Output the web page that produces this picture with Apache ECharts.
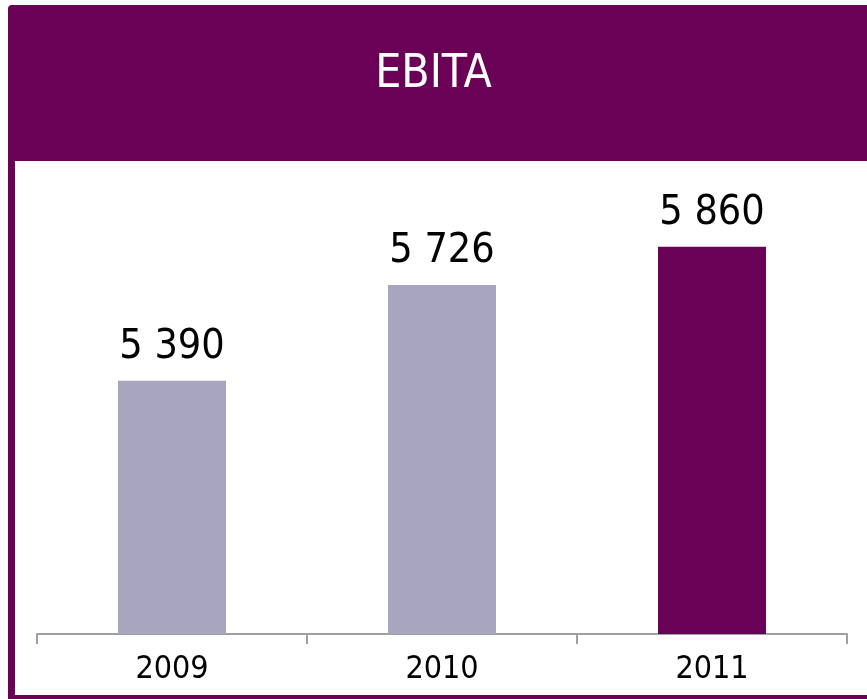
<!DOCTYPE html>
<html>
<head>
<meta charset="utf-8">
<script src="https://cdn.jsdelivr.net/npm/echarts@6/dist/echarts.min.js"></script>
<style>
  html, body { margin: 0; padding: 0; background: #fff; }
  #chart { width: 867px; height: 699px; }
</style>
</head>
<body>
<div id="chart"></div>
<script>
var years = ['2009', '2010', '2011'];
var ebita = [5390, 5726, 5860];
var barColors = ['#a8a5be', '#a8a5be', '#6b0057'];
var labelText = ['5 390', '5 726', '5 860'];

var PURPLE = '#6b0057';
var FONT = '"DejaVu Sans Condensed", "Liberation Sans", Arial, sans-serif';

var chart = echarts.init(document.getElementById('chart'));

chart.setOption({
  animation: false,
  graphic: [
    // header band
    { type: 'rect', shape: { x: 8, y: 5, width: 870, height: 156, r: [4, 0, 0, 0] }, style: { fill: PURPLE } },
    // left border
    { type: 'rect', shape: { x: 8, y: 160, width: 7, height: 540 }, style: { fill: PURPLE } },
    // bottom border
    { type: 'rect', shape: { x: 8, y: 695, width: 870, height: 4 }, style: { fill: PURPLE } },
    {
      type: 'text', left: 'center', top: 52,
      style: { text: 'EBITA', fill: '#fff', font: '46px ' + FONT }
    }
  ],
  grid: { left: 37, right: 20, top: 207, bottom: 65 },
  xAxis: {
    type: 'category',
    data: years,
    axisLine: { lineStyle: { color: '#a0a0a0', width: 2 } },
    axisTick: { show: true, alignWithLabel: false, length: 10, lineStyle: { color: '#a0a0a0', width: 2 } },
    axisLabel: { color: '#000', fontSize: 32, fontFamily: FONT, margin: 20 }
  },
  yAxis: {
    type: 'value', min: 4500, max: 6000, show: false,
    splitLine: { show: false }
  },
  series: [{
    type: 'bar',
    barWidth: '40%',
    data: ebita.map(function (v, i) {
      return { value: v, itemStyle: { color: barColors[i] } };
    }),
    label: {
      show: true, position: 'top', distance: 13,
      color: '#000', fontSize: 41, fontFamily: FONT,
      formatter: function (p) { return labelText[p.dataIndex]; }
    }
  }]
});
</script>
</body>
</html>
